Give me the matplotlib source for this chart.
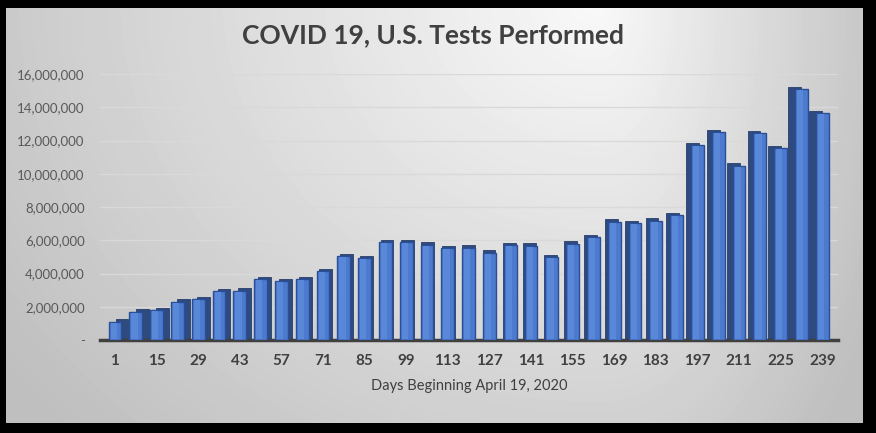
import numpy as np
import matplotlib
matplotlib.use("Agg")
import matplotlib.pyplot as plt
from matplotlib.ticker import FuncFormatter

# fonts and colours
plt.rcParams.update({'font.family': ['Lato', 'DejaVu Sans']})
plt.rcParams.update({'font.size': 10})

# ======================================================
# DATA (weekly U.S. tests)
# ======================================================
days = list(range(1, 240, 7))
tests = [1_100_000, 1_700_000, 1_780_000, 2_300_000, 2_470_000, 2_950_000,
         2_970_000, 3_640_000, 3_520_000, 3_650_000, 4_160_000, 5_030_000,
         4_930_000, 5_880_000, 5_900_000, 5_740_000, 5_530_000, 5_550_000,
         5_250_000, 5_700_000, 5_680_000, 4_970_000, 5_800_000, 6_180_000,
         7_110_000, 7_010_000, 7_170_000, 7_520_000, 11_700_000, 12_500_000,
         10_480_000, 12_440_000, 11_530_000, 15_100_000, 13_650_000]
y_ticks = [0, 2_000_000, 4_000_000, 6_000_000, 8_000_000,
           10_000_000, 12_000_000, 14_000_000, 16_000_000]

TITLE = "COVID 19, U.S. Tests Performed"
XLABEL = "Days Beginning April 19, 2020"

# ======================================================
# FIGURE + BACKGROUND
# ======================================================
W, H = 876, 433
fig = plt.figure(figsize=(W / 100, H / 100), dpi=100, facecolor="black")

# inner panel with a soft gradient (white near top, grey to the edges)
x0, x1, y0, y1 = 6, 863, 8, 423
bg = fig.add_axes([x0 / W, (H - y1) / H, (x1 - x0) / W, (y1 - y0) / H])
gx, gy = np.meshgrid(np.arange(x0, x1), np.arange(y0, y1))
cx = 600
sx = np.where(gx < cx, 620.0, 262.0)
r = np.sqrt(((gx - cx) / sx) ** 2 + (gy / 520.0) ** 2)
shade = 0.975 - 0.19 * np.clip(r, 0, 1.2)
bg.imshow(shade, cmap="gray", vmin=0, vmax=1, aspect="auto",
          interpolation="bilinear")
bg.set_axis_off()

# ======================================================
# BAR CHART
# ======================================================
ax = fig.add_axes([100 / W, (H - 340) / H, 738 / W, 266 / H])
ax.set_facecolor("none")

pos = np.arange(len(days))
mid = (len(days) - 1) / 2
bw = 0.62

# fake 3-D: a darker block behind, shifted toward the centre of view
shift = 0.34 * (mid - pos) / mid
ax.bar(pos + shift, np.array(tests) + 140_000, width=bw, color="#2e4a7e",
       edgecolor="#263f6c", lw=0.6, zorder=2)
ax.bar(pos, tests, width=bw, color="#4b7acf", edgecolor="#2b4f96",
       lw=1.0, zorder=3)
ax.bar(pos - 0.06, np.array(tests) - 120_000, width=0.3, bottom=60_000,
       color="#5a88d8", lw=0, zorder=4)

ax.set_xlim(-0.72, len(days) - 0.24)
ax.set_ylim(0, 16_000_000)
ax.set_yticks(y_ticks)
ax.yaxis.set_major_formatter(
    FuncFormatter(lambda v, p: "-" if v == 0 else f"{v:,.0f}"))
ax.set_xticks(pos[::2])
ax.set_xticklabels([str(d) for d in days[::2]])

ax.grid(axis="y", color="#d9d9d9", lw=1.0, zorder=0)
ax.set_axisbelow(True)
for s in ["top", "right", "left"]:
    ax.spines[s].set_visible(False)
ax.spines["bottom"].set_color("#404040")
ax.spines["bottom"].set_linewidth(2.5)

ax.tick_params(axis="y", length=0, pad=11, labelsize=9.5, labelcolor="#595959")
ax.tick_params(axis="x", length=0, pad=10, labelsize=11, labelcolor="#404040")
for lb in ax.get_xticklabels():
    lb.set_fontweight("bold")

ax.set_xlabel(XLABEL, fontsize=10.5, color="#404040", labelpad=8)

fig.text(433 / W, 1 - 35 / H, TITLE, ha="center", va="center",
         fontsize=19, fontweight="bold", color="#404040")

fig.savefig("out.png", dpi=100, facecolor=fig.get_facecolor())
